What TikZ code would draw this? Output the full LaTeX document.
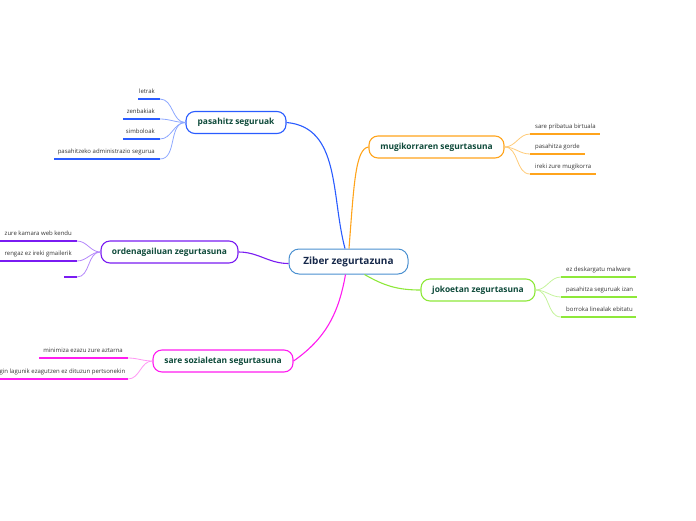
\documentclass[tikz,border=0pt]{standalone}
\usepackage{fontspec}
\setmainfont{Open Sans}
\usetikzlibrary{positioning}

\definecolor{cblue}{HTML}{2A5CFF}
\definecolor{cbluel}{HTML}{8DA8FF}
\definecolor{corange}{HTML}{FFA41C}
\definecolor{corangel}{HTML}{FFCB78}
\definecolor{cpurple}{HTML}{7A1CF2}
\definecolor{cpurplel}{HTML}{B488FA}
\definecolor{cgreen}{HTML}{8EE83A}
\definecolor{cgreenl}{HTML}{C4F39A}
\definecolor{cmagenta}{HTML}{FF1CF0}
\definecolor{cmagental}{HTML}{FF96F4}
\definecolor{ccentral}{HTML}{4A90D0}
\definecolor{topictext}{HTML}{0E4A3A}
\definecolor{centraltext}{HTML}{16284A}
\definecolor{leaftext}{HTML}{333333}

\begin{document}
\begin{tikzpicture}[x=1pt,y=-1pt]
        \tikzstyle{central}=[draw=ccentral, fill=white, line width=1pt, rounded corners=10pt, minimum width=119pt, minimum height=25pt, text=centraltext, font=\fontsize{10}{12}\selectfont\bfseries]
        \tikzstyle{topic}=[fill=white, line width=1.1pt, rounded corners=9pt, minimum height=22pt, text=topictext, font=\fontsize{8.4}{10}\selectfont\bfseries]
        \tikzstyle{leaf}=[inner sep=0pt, text=leaftext, font=\fontsize{6}{7}\selectfont]
        \tikzstyle{branch}=[line width=1.1pt]
        \tikzstyle{twig}=[line width=0.8pt]
        \tikzstyle{uline}=[line width=1.5pt]

        \useasboundingbox (0,0) rectangle (696,520);
        \clip (0,0) rectangle (696,520);

        \node[central] (zib) at (348.5,261.5) {Ziber zegurtazuna};

        \node[topic, draw=cblue, minimum width=100pt] (pas) at (236,122.5) {pasahitz seguruak};
        \node[topic, draw=corange, minimum width=135pt] (mug) at (436.5,147) {mugikorraren segurtasuna};
        \node[topic, draw=cpurple, minimum width=137pt] (ord) at (169.5,252) {ordenagailuan zegurtasuna};
        \node[topic, draw=cgreen, minimum width=114pt] (jok) at (478,290) {jokoetan zegurtasuna};
        \node[topic, draw=cmagenta, minimum width=140pt] (sar) at (223,361) {sare sozialetan segurtasuna};

        % central connectors
        \draw[branch, cblue] ([xshift=-3.5pt]zib.north) to[out=105,in=-5] (pas.east);
        \draw[branch, corange] ([xshift=0.5pt]zib.north) .. controls +(5,-65) and +(-13,2) .. (mug.west);
        \draw[branch, cpurple] ([yshift=-2pt]zib.west) to[out=180,in=0] (ord.east);
        \draw[branch, cgreen] ([xshift=16pt]zib.south) to[out=-30,in=180] (jok.west);
        \draw[branch, cmagenta] ([xshift=-3pt]zib.south) to[out=-100,in=35] (sar.east);

        % leaves on the left side
        \foreach \txt/\y/\xa/\xb/\d/\cl/\cd/\m [count=\i] in {
            letrak/99/138/160/5/cbluel/cblue/pas,
            zenbakiak/119/123/160/5/cbluel/cblue/pas,
            simboloak/139/123/160/5/cbluel/cblue/pas,
            pasahitzeko administrazio segurua/159/54/160/5/cbluel/cblue/pas,
            zure kamara web kendu/241/-2/77/5/cpurplel/cpurple/ord,
            rengaz ez ireki gmailerik/261/-2/77/5/cpurplel/cpurple/ord,
            /277/64/77/5/cpurplel/cpurple/ord,
            minimiza ezazu zure aztarna/358/39/128/5/cmagental/cmagenta/sar,
            gin lagunik ezagutzen ez dituzun pertsonekin/379/-2/128/2.5/cmagental/cmagenta/sar} {
            \coordinate (la\i) at (\xa,\y);
            \coordinate (lb\i) at (\xb,\y);
            \node[leaf, anchor=base east] (lt\i) at (\xb-\d,\y-5.5) {\txt};
            \draw[twig, \cl] (\m.west) to[out=180,in=0] (lb\i);
            \draw[uline, \cd] (la\i) -- (lb\i);
        }

        % leaves on the right side
        \foreach \txt/\y/\xa/\xb/\cl/\cd/\m [count=\i] in {
            sare pribatua birtuala/134/530/600/corangel/corange/mug,
            pasahitza gorde/154/530/585/corangel/corange/mug,
            ireki zure mugikorra/174/530/596/corangel/corange/mug,
            ez deskargatu malware/277/561/636/cgreenl/cgreen/jok,
            pasahitza seguruak izan/297/561/637/cgreenl/cgreen/jok,
            borroka linealak ebitatu/317/561/636/cgreenl/cgreen/jok} {
            \coordinate (ra\i) at (\xa,\y);
            \coordinate (rb\i) at (\xb,\y);
            \node[leaf, anchor=base west] (rt\i) at (\xa+5,\y-5.5) {\txt};
            \draw[twig, \cl] (\m.east) to[out=0,in=180] (ra\i);
            \draw[uline, \cd] (ra\i) -- (rb\i);
        }
    \end{tikzpicture}
\end{document}
